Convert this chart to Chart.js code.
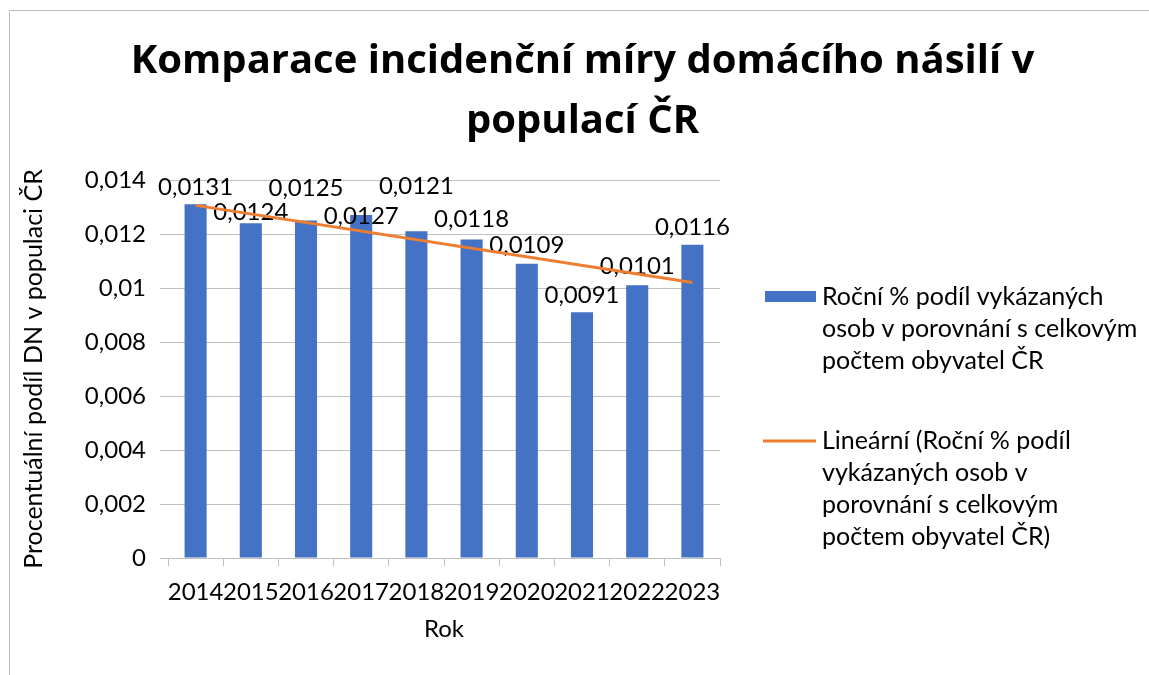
<!DOCTYPE html>
<html>
<head>
<meta charset="utf-8">
<script src="https://cdn.jsdelivr.net/npm/chart.js@4.4.1/dist/chart.umd.min.js"></script>
<style>
	html, body { margin: 0; padding: 0; background: #fff; }
	canvas { display: block; }
</style>
</head>
<body>
<canvas id="chart" width="1149" height="675"></canvas>
<script>
// data
const years = ['2014', '2015', '2016', '2017', '2018', '2019', '2020', '2021', '2022', '2023'];
const shares = [0.0131, 0.0124, 0.0125, 0.0127, 0.0121, 0.0118, 0.0109, 0.0091, 0.0101, 0.0116];
// linear trendline, only its two end points
const trend = [0.01306, null, null, null, null, null, null, null, null, 0.0102];
const yTicks = { min: 0, max: 0.014, step: 0.002 };

const titleLines = ['Komparace incidenční míry domácího násilí v', 'populací ČR'];
const yTitle = 'Procentuální podíl DN v populaci ČR';
const xTitle = 'Rok';
const barLegend = ['Roční % podíl vykázaných', 'osob v porovnání s celkovým', 'počtem obyvatel ČR'];
const trendLegend = ['Lineární (Roční % podíl', 'vykázaných osob v', 'porovnání s celkovým', 'počtem obyvatel ČR)'];

const FONT = 'Lato';
const BLUE = '#4472C4';
const ORANGE = '#ED7D31';
const GRID = '#c0c0c0';

// label lift above bar top (Excel moved a few to avoid overlaps)
const labelLift = [17, 11, 32, -1, 45, 20, 18, 17, 19, 18];

const comma = v => String(v).replace('.', ',');

const frame = {
	id: 'frame',
	beforeDraw(chart) {
		const ctx = chart.ctx;
		ctx.save();
		ctx.strokeStyle = '#bdbdbd';
		ctx.lineWidth = 1;
		ctx.beginPath();
		ctx.moveTo(9.5, 675);
		ctx.lineTo(9.5, 10.5);
		ctx.lineTo(1149, 10.5);
		ctx.stroke();
		ctx.restore();
	}
};

const barLabels = {
	id: 'barLabels',
	afterDatasetDraw(chart, args) {
		if (args.index !== 0) return;
		const ctx = chart.ctx;
		ctx.save();
		ctx.font = `24px ${FONT}`;
		ctx.fillStyle = '#000';
		ctx.textAlign = 'center';
		ctx.textBaseline = 'middle';
		args.meta.data.forEach((bar, i) => {
			ctx.fillText(comma(shares[i]), bar.x, bar.y - labelLift[i]);
		});
		ctx.restore();
	}
};

const sideLegend = {
	id: 'sideLegend',
	afterDraw(chart) {
		const ctx = chart.ctx;
		ctx.save();
		ctx.font = `25px ${FONT}`;
		ctx.textAlign = 'left';
		ctx.textBaseline = 'middle';
		const x = 822, lh = 32;

		ctx.fillStyle = BLUE;
		ctx.fillRect(765, 291, 51, 11);
		ctx.fillStyle = '#000';
		barLegend.forEach((line, i) => ctx.fillText(line, x, 297 + i * lh));

		ctx.strokeStyle = ORANGE;
		ctx.lineWidth = 3;
		ctx.beginPath();
		ctx.moveTo(763, 441);
		ctx.lineTo(816, 441);
		ctx.stroke();
		trendLegend.forEach((line, i) => ctx.fillText(line, x, 441 + i * lh));
		ctx.restore();
	}
};

new Chart(document.getElementById('chart').getContext('2d'), {
	type: 'bar',
	data: {
		labels: years,
		datasets: [{
			type: 'bar',
			label: barLegend.join(' '),
			data: shares,
			backgroundColor: BLUE,
			barPercentage: 0.4,
			categoryPercentage: 1,
			order: 1,
		}, {
			type: 'line',
			label: trendLegend.join(' '),
			data: trend,
			borderColor: ORANGE,
			borderWidth: 3,
			pointRadius: 0,
			spanGaps: true,
			order: 0,
		}]
	},
	options: {
		responsive: false,
		animation: false,
		devicePixelRatio: 1,
		layout: {
			padding: { left: 16, right: 0, top: 0, bottom: 0 },
		},
		scales: {
			x: {
				offset: true,
				grid: {
					offset: true,
					drawOnChartArea: false,
					drawTicks: true,
					tickLength: 8,
					color: GRID,
				},
				border: { display: true, color: GRID },
				ticks: {
					autoSkip: false,
					maxRotation: 0,
					padding: 12,
					color: '#000',
					font: { family: FONT, size: 24 },
				},
				title: {
					display: true,
					text: xTitle,
					color: '#000',
					font: { family: FONT, size: 24 },
					padding: { top: 10, bottom: 31 },
				},
				afterFit: scale => { scale.height = 117; },
			},
			y: {
				min: yTicks.min,
				max: yTicks.max,
				grid: {
					color: GRID,
					tickLength: 8,
				},
				border: { display: false },
				ticks: {
					stepSize: yTicks.step,
					padding: 14,
					color: '#000',
					font: { family: FONT, size: 24 },
					callback: v => comma(+v.toFixed(3)),
				},
				title: {
					display: true,
					text: yTitle,
					color: '#000',
					font: { family: FONT, size: 25 },
					padding: { top: 3, bottom: 0 },
				},
				afterFit: scale => { scale.width = 152; },
			},
			// empty right-hand box that keeps room for the side legend
			room: {
				type: 'linear',
				position: 'right',
				grid: { display: false },
				border: { display: false },
				ticks: { display: false },
				afterFit: scale => { scale.width = 429; },
			},
		},
		plugins: {
			legend: { display: false },
			tooltip: { enabled: false },
			title: {
				display: true,
				text: titleLines,
				color: '#000',
				font: { family: 'Open Sans', size: 40, weight: 'bold', lineHeight: 1.5 },
				padding: { top: 32, bottom: 28 },
			},
		},
	},
	plugins: [frame, barLabels, sideLegend],
});
</script>
</body>
</html>
